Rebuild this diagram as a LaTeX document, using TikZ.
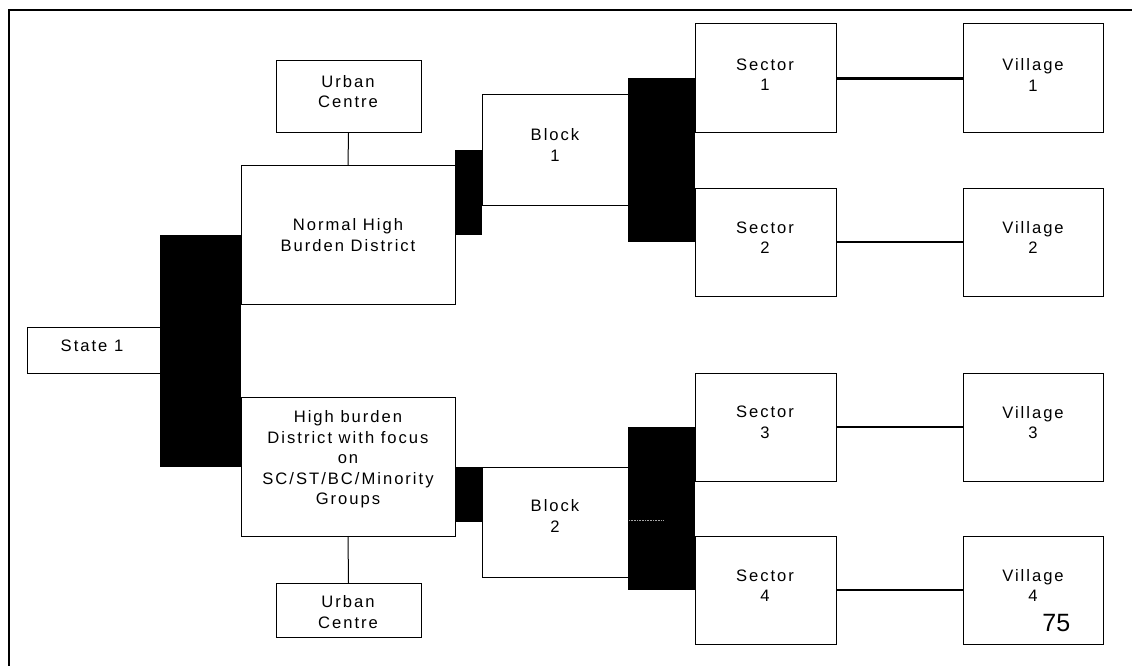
\documentclass[tikz,border=0pt]{standalone}
\usepackage{fontspec}
\setmainfont{Liberation Sans}[LetterSpace=12]
\newfontfamily\numfont{Liberation Sans}
\begin{document}
\begin{tikzpicture}[x=1pt,y=-1pt,
  box/.style={draw=black, line width=1pt, rectangle, inner sep=0pt, outer sep=0pt},
  txt/.style={align=center, inner sep=0pt, font=\fontsize{16.6}{20.5}\selectfont},
  thin/.style={line width=1pt},
  thick/.style={line width=2.2pt},
  bar/.style={fill=black}]
\useasboundingbox (0,0) rectangle (1132,666);
\begin{scope}
\clip (0,0) rectangle (1132,666);
\draw[line width=1.5pt] (9,10) rectangle (1150,690);
\end{scope}

% boxes
\node[box, minimum width=133, minimum height=46]  (state) at (93.5,350) {};
\node[box, minimum width=214, minimum height=139] (nhbd)  at (348,234.5) {};
\node[box, minimum width=145, minimum height=72]  (uc1)   at (348.5,97) {};
\node[box, minimum width=214, minimum height=139] (hb)    at (348,466.5) {};
\node[box, minimum width=145, minimum height=54]  (uc2)   at (348.5,610) {};
\node[box, minimum width=146, minimum height=110] (block1) at (555,150) {};
\node[box, minimum width=146, minimum height=110] (block2) at (555,522) {};
\node[box, minimum width=141, minimum height=109] (s1) at (765.5,78.5) {};
\node[box, minimum width=141, minimum height=108] (s2) at (765.5,242) {};
\node[box, minimum width=141, minimum height=108] (s3) at (765.5,427) {};
\node[box, minimum width=141, minimum height=108] (s4) at (765.5,590) {};
\node[box, minimum width=140, minimum height=109] (v1) at (1033,78.5) {};
\node[box, minimum width=140, minimum height=108] (v2) at (1033,242) {};
\node[box, minimum width=140, minimum height=108] (v3) at (1033,427) {};
\node[box, minimum width=140, minimum height=108] (v4) at (1033,590) {};

% texts
\node[txt] (state-t) at (92,345.5) {State 1};
\node[txt] (uc1-t) at (348,91.5) {Urban\\Centre};
\node[txt] (nhbd-t) at (348,235) {Normal High\\Burden District};
\node[txt] (hb-t) at (348,459.5) {High burden\\District with focus\\on\\SC/ST/BC/Minority\\Groups};
\node[txt] (uc2-t) at (348,612) {Urban\\Centre};
\node[txt] (block1-t) at (555,145) {Block\\1};
\node[txt] (block2-t) at (555,516) {Block\\2};
\node[txt] (s1-t) at (765,74.5) {Sector\\1};
\node[txt] (s2-t) at (765,237.7) {Sector\\2};
\node[txt] (s3-t) at (765,422.5) {Sector\\3};
\node[txt] (s4-t) at (765,585.5) {Sector\\4};
\node[txt] (v1-t) at (1033,75) {Village\\1};
\node[txt] (v2-t) at (1033,237.5) {Village\\2};
\node[txt] (v3-t) at (1033,422.5) {Village\\3};
\node[txt] (v4-t) at (1033,585.7) {Village\\4};
\node[inner sep=0pt, font=\numfont\fontsize{25}{30}\selectfont] (page) at (1056.3,623.3) {75};

% elbow connectors (drawn as solid black bars)
\fill[bar] (state.east |- nhbd.west) rectangle (hb.west);
\fill[bar] (nhbd.east) rectangle (block1.west);
\fill[bar] (block1.east |- s1.west) rectangle (s2.west);
\fill[bar] (hb.east) rectangle (block2.west);
\fill[bar] (block2.east |- s3.west) rectangle (s4.west);
\coordinate (dA) at (629,520);
\coordinate (dB) at (663,520);
\draw[gray!70, densely dotted, line width=0.6pt] (dA) -- (dB);

% straight connectors
\draw[thin] (uc1.south) -- (nhbd.north);
\draw[thin] (hb.south) -- (uc2.north);
\draw[thick] (s1.east) -- (v1.west);
\draw[thick] (s2.east) -- (v2.west);
\draw[thick] (s3.east) -- (v3.west);
\draw[thick] (s4.east) -- (v4.west);
\end{tikzpicture}
\end{document}
